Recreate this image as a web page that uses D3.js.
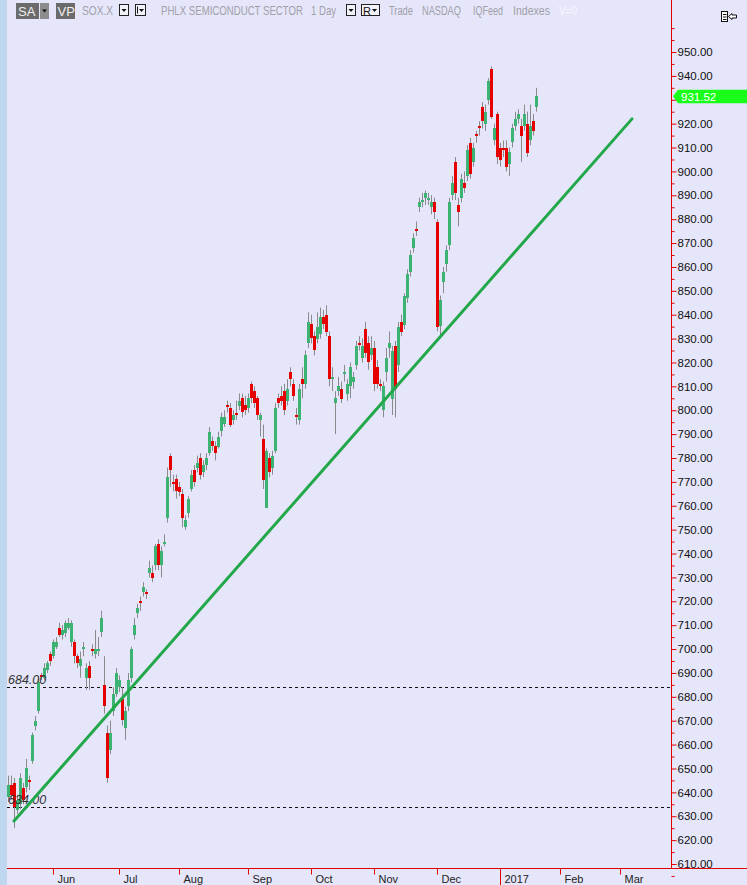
<!DOCTYPE html>
<html><head><meta charset="utf-8">
<script src="https://cdn.jsdelivr.net/npm/d3@7"></script>
<style>html,body{margin:0;padding:0;background:#e6e6fa;}svg{display:block;}</style>
</head><body><svg id="c" width="747" height="885"></svg>
<script>
// ---------------- DATA ----------------
const startDate = "2016-05-10";
const holidays = ["2016-05-30","2016-07-04","2016-09-05","2016-11-24","2016-12-26","2017-01-02","2017-01-16"];
const openV = [638,643,644,633,635,642,642,645,653,668,674,689,688,691,698,697,701,709,706,707,709,703,703,697,693,700,688,693,700,698,
699,707,685,665,658,674,681,684,679,667,676,688,706,715,720,724,724,732,732,735,744,735,744,755,781,770,771,768,765,751,
757,767,775,776,780,774,777,782,787,785,785,791,794,802,801,796,799,802,805,802,801,811,808,805,796,788,759,780,776,783,
805,806,808,804,816,811,798,796,813,811,828,836,831,830,832,839,840,831,813,803,808,809,815,807,810,812,819,828,822,834,
828,823,826,818,811,800,816,826,805,827,819,837,836,847,858,868,876,885,887,889,888,885,887,879,835,854,861,869,890,904,
886,889,895,898,912,904,915.5,919,927,920,930,943,913,924,910,910,910,903,912,919,922,919,919,920,913,921,927];
const highV = [647,647,646,639,648,644,654,647,665,672,688,690,694,695,699,704,705,711,710,712,713,712,704,698,699,703,694,695,702,708,
705,716,697,668,670,684,692,689,684,676,690,701,713,719,722,728,725,737,735,744,746,743,748,776,782,773,773,770,767,756,
764,775,777,781,782,779,782,793,789,787,791,799,800,804,803,800,804,807,807,806,807,812,810,806,799,794,784,782,783,803,
807,810,811,813,818,813,801,811,818,825,841,840,833,841,843,842,844,833,818,808,814,812,819,813,820,816,829,831,830,837,
831,831,829,821,813,812,826,833,827,829,837,840,849,859,867,874,879,889,891,892,891,890,889,880,848,860,869,889,898,906,
889,899,900,911,914,912,917,921,929,928,939,944,920,925,912,913,913,910,920,925,926,922,928,925,928,924,935];
const lowV = [636,637,625,631,633,635,640,641,652,666,673,687,687,690,693,696,700,705,704,705,708,701,694,692,688,697,683,683,697,696,
697,705,673,644,656,672,680,682,668,662,674,686,704,713,716,722,721,730,728,733,733,730,743,753,768,766,763,764,751,750,
755,766,768,774,771,772,775,781,783,779,784,789,793,799,793,794,796,800,797,798,799,803,801,796,789,767,759,772,773,782,
801,802,798,802,810,804,794,794,805,809,826,828,823,828,830,834,831,810,808,790,806,803,812,804,805,809,817,825,820,822,
817,821,808,809,808,797,812,822,798,797,816,831,834,845,856,866,873,883,885,886,886,882,880,833,830,849,858,867,888,888,
877,887,891,896,897,902,912,915,918,917,928,922,911,903,902,906,900,898,910,917,920,904,917,906,911,915,925];
const closeV = [643,639,634,637,646,637,650,644,664,670,686,688,692,694,695,703,703,706,708,711,711,711,697,694,696,701,692,688,699,700,
700,713,676,646,665,681,690,687,670,674,687,700,710,717,719,726,723,734,730,743,735,741,745,772,775,769,766,766,755,754,
763,773,770,778,773,777,780,791,785,782,789,797,797,801,794,798,798,804,799,800,805,805,803,798,798,771,783,774,781,801,
803,804,800,809,813,806,797,809,811,823,837,830,825,835,839,836,833,813,814,805,810,805,816,811,818,814,827,827,827,824,
820,826,811,811,810,810,822,828,825,809,835,833,848,857,865,872,875,887,888,891,889,887,883,835,846,858,867,887,895,891,
883,897,893,909,899,910,914.8,918,921,925,938,923,918,906,905,909,902,908,918,922,924,915,924,908,919,917,931.52];
const monthLabels = ["Jun","Jul","Aug","Sep","Oct","Nov","Dec","2017","Feb","Mar"];
const monthDates = ["2016-06-01","2016-07-01","2016-08-01","2016-09-01","2016-10-03","2016-11-01","2016-12-01","2017-01-03","2017-02-01","2017-03-01"];
const yTickValues = [610,620,630,640,650,660,670,680,690,700,710,720,730,740,750,760,770,780,790,800,810,820,830,840,850,860,870,880,890,900,910,920,930,940,950];
const yMinorTicks = [605,615,625,635,645,655,665,675,685,695,705,715,725,735,745,755,765,775,785,795,805,815,825,835,845,855,865,875,885,895,905,915,925,935,945,955,960];
const refLevels = [684, 634];
const refLabels = ["684.00", "634.00"];
const trendDates = ["2016-05-12", "2017-03-07"];
const trendValues = [628, 922];
const lastPrice = 931.52;

// ---------------- TRADING CALENDAR ----------------
const fmt = d3.utcFormat("%Y-%m-%d");
const days = [];
{
  let d = new Date(startDate + "T00:00:00Z");
  while (days.length < 240) {
    const wd = d.getUTCDay(), s = fmt(d);
    if (wd !== 0 && wd !== 6 && !holidays.includes(s)) days.push(s);
    d = new Date(d.getTime() + 86400000);
  }
}
const dayIndex = new Map(days.map((s, i) => [s, i]));

// ---------------- SCALES ----------------
const W = 747, H = 885;
const axisX = 671, axisY = 868;
const x = d3.scaleLinear().domain([0, 221]).range([8, 8 + 3 * 221]);
const y = d3.scaleLinear().domain([610, 950]).range([864, 52]);
const FONT = "'Liberation Sans', Arial, sans-serif";
const GREEN = "#3db373", RED = "#e60000", WICK = "#8a8a8a", AXISRED = "#e00000";

const svg = d3.select("#c");
svg.append("rect").attr("width", W).attr("height", H).attr("fill", "#e6e6fa");
svg.append("rect").attr("x", 0).attr("y", 0).attr("width", 7).attr("height", H).attr("fill", "#bed6ee");

// reference dashed levels
refLevels.forEach(v => {
  svg.append("line").attr("x1", 7).attr("x2", axisX).attr("y1", Math.round(y(v)) + 0.5).attr("y2", Math.round(y(v)) + 0.5)
    .attr("stroke", "#111").attr("stroke-dasharray", "3,3").attr("stroke-width", 1);
});

// candles
const candles = openV.map((o, i) => ({ i, o, h: highV[i], l: lowV[i], c: closeV[i] }));
const cg = svg.append("g");
cg.selectAll("line.wick").data(candles).join("line").attr("class", "wick")
  .attr("x1", d => Math.round(x(d.i)) + 0.5).attr("x2", d => Math.round(x(d.i)) + 0.5)
  .attr("y1", d => y(d.h)).attr("y2", d => y(d.l)).attr("stroke", WICK).attr("stroke-width", 1);
cg.selectAll("rect.body").data(candles).join("rect").attr("class", "body")
  .attr("x", d => Math.round(x(d.i)) - 1).attr("width", 3)
  .attr("y", d => Math.round(y(Math.max(d.o, d.c))))
  .attr("height", d => Math.max(2, Math.round(Math.abs(y(d.o) - y(d.c)))))
  .attr("fill", d => d.c >= d.o ? GREEN : RED).attr("shape-rendering", "crispEdges");

// level labels (drawn over candles)
refLevels.forEach((v, k) => {
  svg.append("text").attr("x", 8).attr("y", Math.round(y(v)) - 3).text(refLabels[k])
    .attr("fill", "#333").style("font", "italic 12.5px " + FONT);
});

// trend line
svg.append("line")
  .attr("x1", x(dayIndex.get(trendDates[0]))).attr("y1", y(trendValues[0]))
  .attr("x2", x(dayIndex.get(trendDates[1]))).attr("y2", y(trendValues[1]))
  .attr("stroke", "#22a84a").attr("stroke-width", 3).attr("stroke-linecap", "round");

// axes lines
svg.append("line").attr("x1", axisX + 0.5).attr("x2", axisX + 0.5).attr("y1", 0).attr("y2", axisY + 0.5).attr("stroke", AXISRED);
svg.append("line").attr("x1", 7).attr("x2", W).attr("y1", axisY + 0.5).attr("y2", axisY + 0.5).attr("stroke", AXISRED);

// y axis (labels hidden where the last-price tag covers them)
const py = y(lastPrice);
const yg = svg.append("g").attr("transform", `translate(${axisX + 0.5},0)`)
  .call(d3.axisRight(y).tickValues(yTickValues).tickFormat(d3.format(".2f")).tickSize(5).tickPadding(1));
yg.select(".domain").remove();
yg.selectAll("line").attr("stroke", AXISRED);
yg.selectAll("text").attr("fill", "#111").style("font", "11.5px " + FONT);
yg.selectAll(".tick").filter(d => Math.abs(y(d) - py) < 11).select("text").remove();
const ymg = svg.append("g").attr("transform", `translate(${axisX + 0.5},0)`)
  .call(d3.axisRight(y).tickValues(yMinorTicks).tickFormat("").tickSize(3));
ymg.select(".domain").remove();
ymg.selectAll("line").attr("stroke", AXISRED);

// x axis
const xg = svg.append("g").attr("transform", `translate(0,${axisY + 0.5})`)
  .call(d3.axisBottom(x).tickValues(monthDates.map(s => dayIndex.get(s)))
    .tickFormat((d, k) => monthLabels[k]).tickSize(6));
xg.select(".domain").remove();
xg.selectAll("line").attr("stroke", AXISRED).attr("y2", (d, k) => monthLabels[k] === "2017" ? 20 : 6);
xg.selectAll("text").attr("text-anchor", "start").attr("x", 4).attr("y", 7).attr("dy", "0.71em")
  .attr("fill", "#222").style("font", "11px " + FONT);

// last price tag
svg.append("path")
  .attr("d", `M${axisX + 2},${py} L${axisX + 7},${py - 6.5} L${W},${py - 6.5} L${W},${py + 7} L${axisX + 7},${py + 7} Z`)
  .attr("fill", "#1aff1a");
svg.append("text").attr("x", 681).attr("y", py + 4.5).text(d3.format(".2f")(lastPrice))
  .attr("fill", "#ffffff").style("font", "11.5px " + FONT);

// ---------------- HEADER ----------------
const hdr = svg.append("g");
function tri(cx, cy, col) {
  hdr.append("path").attr("d", `M${cx - 2.5},${cy - 1.5} L${cx + 2.5},${cy - 1.5} L${cx},${cy + 1.5} Z`).attr("fill", col);
}
hdr.append("rect").attr("x", 16).attr("y", 3).attr("width", 23).attr("height", 16).attr("fill", "#6b6b6b");
hdr.append("text").attr("x", 18).attr("y", 16).text("SA").attr("fill", "#eeeeee").style("font", "13px " + FONT);
hdr.append("rect").attr("x", 40).attr("y", 3).attr("width", 9).attr("height", 16).attr("fill", "#8c8c8c");
tri(44.5, 11, "#111");
hdr.append("rect").attr("x", 56).attr("y", 3).attr("width", 19).attr("height", 16).attr("fill", "#6b6b6b");
hdr.append("text").attr("x", 57.5).attr("y", 16).text("VP").attr("fill", "#eeeeee").style("font", "13px " + FONT);
// header words: drawn at natural width, then squeezed horizontally to the target width
function hText(s, x0, len, col) {
  const g = hdr.append("g");
  const t = g.append("text").attr("x", 0).attr("y", 0).text(s).attr("fill", col || "#a0a0a8")
    .style("font", "12px " + FONT);
  const nat = t.node().getComputedTextLength() || len;
  g.attr("transform", `translate(${x0},15) scale(${len / nat},1)`);
}
hText("SOX.X", 82, 31);
function ddBox(x0, w) {
  hdr.append("rect").attr("x", x0 + 0.5).attr("y", 4.5).attr("width", w).attr("height", 11)
    .attr("fill", "#f2f2fa").attr("stroke", "#222");
}
ddBox(119, 9); tri(124, 10.5, "#111");
ddBox(135, 10); hdr.append("rect").attr("x", 137).attr("y", 6.5).attr("width", 1).attr("height", 7).attr("fill", "#111"); tri(141.5, 10.5, "#111");
hText("PHLX SEMICONDUCT SECTOR", 161, 142);
hText("1 Day", 311, 25);
ddBox(346, 9); tri(351, 10.5, "#111");
ddBox(361, 18);
hdr.append("text").attr("x", 363).attr("y", 14.5).text("R").attr("fill", "#111").style("font", "11px " + FONT);
tri(374.5, 10.5, "#111");
hText("Trade", 389, 24);
hText("NASDAQ", 422, 39);
hText("IQFeed", 473, 30);
hText("Indexes", 513, 37);
hText("V=0", 559, 18, "#f6f6ff");

// top-right icon
const ic = svg.append("g");
ic.append("rect").attr("x", 721.5).attr("y", 11.5).attr("width", 6).attr("height", 10).attr("fill", "#fff").attr("stroke", "#111");
[14, 16.5, 19].forEach(yy => ic.append("line").attr("x1", 723).attr("x2", 726.5).attr("y1", yy + 0.5).attr("y2", yy + 0.5).attr("stroke", "#111"));
ic.append("path").attr("d", "M728.5,16.5 L732,13.5 L732,15 L736.5,15 L736.5,18 L732,18 L732,19.5 Z")
  .attr("fill", "#fff").attr("stroke", "#111").attr("stroke-width", 1);
</script></body></html>
